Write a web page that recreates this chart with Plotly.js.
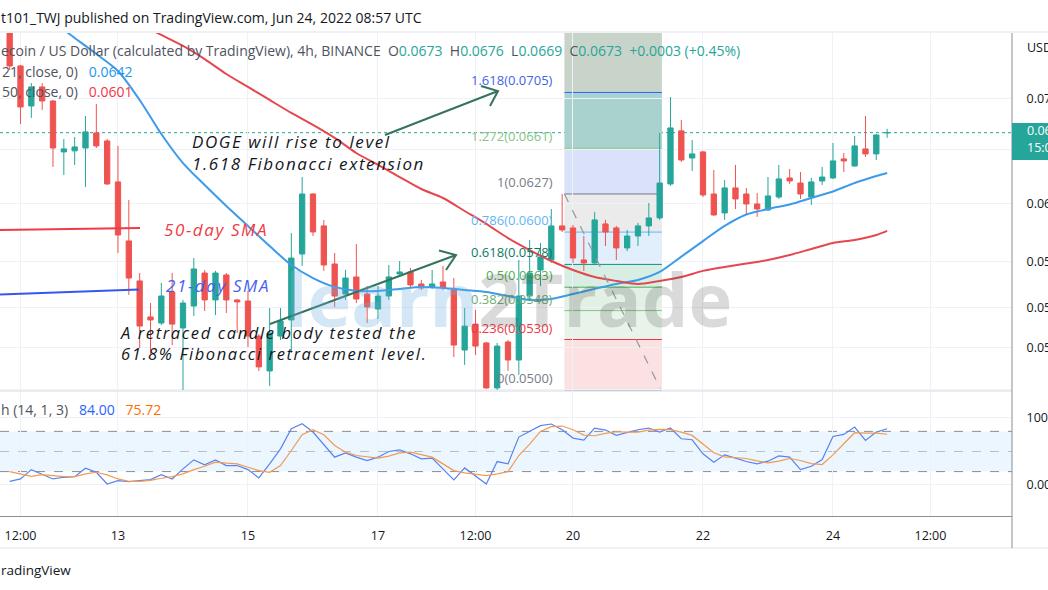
<!DOCTYPE html>
<html>
<head>
<meta charset="utf-8">
<script src="https://cdn.plot.ly/plotly-3.0.1.min.js"></script>
<style>
  html, body { margin: 0; padding: 0; background: #ffffff; }
  #chart { width: 1048px; height: 590px; }
</style>
</head>
<body>
<div id="chart"></div>
<script>
// ---------------- DATA ----------------
const times = [
  "2022-06-11 08:00","2022-06-11 12:00","2022-06-11 16:00","2022-06-11 20:00",
  "2022-06-12 00:00","2022-06-12 04:00","2022-06-12 08:00","2022-06-12 12:00","2022-06-12 16:00","2022-06-12 20:00",
  "2022-06-13 00:00","2022-06-13 04:00","2022-06-13 08:00","2022-06-13 12:00","2022-06-13 16:00","2022-06-13 20:00",
  "2022-06-14 00:00","2022-06-14 04:00","2022-06-14 08:00","2022-06-14 12:00","2022-06-14 16:00","2022-06-14 20:00",
  "2022-06-15 00:00","2022-06-15 04:00","2022-06-15 08:00","2022-06-15 12:00","2022-06-15 16:00","2022-06-15 20:00",
  "2022-06-16 00:00","2022-06-16 04:00","2022-06-16 08:00","2022-06-16 12:00","2022-06-16 16:00","2022-06-16 20:00",
  "2022-06-17 00:00","2022-06-17 04:00","2022-06-17 08:00","2022-06-17 12:00","2022-06-17 16:00","2022-06-17 20:00",
  "2022-06-18 00:00","2022-06-18 04:00","2022-06-18 08:00","2022-06-18 12:00","2022-06-18 16:00","2022-06-18 20:00",
  "2022-06-19 00:00","2022-06-19 04:00","2022-06-19 08:00","2022-06-19 12:00","2022-06-19 16:00","2022-06-19 20:00",
  "2022-06-20 00:00","2022-06-20 04:00","2022-06-20 08:00","2022-06-20 12:00","2022-06-20 16:00","2022-06-20 20:00",
  "2022-06-21 00:00","2022-06-21 04:00","2022-06-21 08:00","2022-06-21 12:00","2022-06-21 16:00","2022-06-21 20:00",
  "2022-06-22 00:00","2022-06-22 04:00","2022-06-22 08:00","2022-06-22 12:00","2022-06-22 16:00","2022-06-22 20:00",
  "2022-06-23 00:00","2022-06-23 04:00","2022-06-23 08:00","2022-06-23 12:00","2022-06-23 16:00","2022-06-23 20:00",
  "2022-06-24 00:00","2022-06-24 04:00","2022-06-24 08:00","2022-06-24 12:00","2022-06-24 16:00","2022-06-24 20:00"
];
const openP = [
  0.07560,0.07269,0.06941,0.07095,
  0.06981,0.06582,0.06590,0.06612,0.06728,0.06666,
  0.06358,0.05939,0.05671,0.05440,0.05402,0.05599,
  0.05371,0.05509,0.05723,0.05548,0.05710,0.05548,
  0.05541,0.05321,0.05111,0.05321,0.05421,0.05850,
  0.06270,0.06043,0.05783,0.05586,0.05697,0.05586,
  0.05490,0.05573,0.05717,0.05730,0.05651,0.05632,
  0.05664,0.05619,0.05236,0.05395,0.05279,0.05012,
  0.05285,0.05176,0.05573,0.05743,0.05810,0.06043,
  0.06029,0.05810,0.05790,0.06057,0.06029,0.05891,
  0.05973,0.06043,0.06099,0.06343,0.06744,0.06536,
  0.06582,0.06270,0.06134,0.06314,0.06270,0.06198,
  0.06155,0.06248,0.06387,0.06350,0.06248,0.06365,
  0.06387,0.06529,0.06476,0.06605,0.06567,0.06730
];
const highP = [
  0.07640,0.07277,0.07127,0.07127,
  0.06989,0.06681,0.06697,0.06861,0.06957,0.06681,
  0.06628,0.06227,0.05723,0.05528,0.05658,0.05723,
  0.05548,0.05823,0.05743,0.05737,0.05723,0.05554,
  0.05606,0.05333,0.05496,0.05496,0.05994,0.06394,
  0.06275,0.06085,0.05857,0.05743,0.05918,0.05638,
  0.05638,0.05776,0.05803,0.05756,0.05677,0.05743,
  0.05770,0.05690,0.05496,0.05484,0.05285,0.05279,
  0.05297,0.05810,0.05946,0.05925,0.06162,0.06270,
  0.06050,0.05973,0.06141,0.06085,0.06043,0.06015,
  0.06064,0.06205,0.06728,0.07013,0.06830,0.06674,
  0.06590,0.06446,0.06372,0.06484,0.06314,0.06277,
  0.06394,0.06484,0.06454,0.06431,0.06387,0.06469,
  0.06650,0.06574,0.06705,0.06861,0.06720,0.06760
];
const lowP = [
  0.07236,0.06798,0.06846,0.06909,
  0.06469,0.06409,0.06484,0.06321,0.06612,0.06336,
  0.05857,0.05580,0.05248,0.05206,0.05389,0.05266,
  0.05000,0.05446,0.05477,0.05452,0.05465,0.05340,
  0.05254,0.05111,0.05023,0.05297,0.05218,0.05770,
  0.05973,0.05737,0.05503,0.05548,0.05528,0.05402,
  0.05427,0.05548,0.05703,0.05625,0.05612,0.05619,
  0.05612,0.05194,0.05147,0.05206,0.05006,0.05000,
  0.05111,0.05088,0.05548,0.05638,0.05790,0.06001,
  0.05790,0.05737,0.05783,0.05904,0.05810,0.05870,
  0.05904,0.05973,0.06085,0.06328,0.06506,0.06439,
  0.06248,0.06113,0.06085,0.06162,0.06120,0.06106,
  0.06148,0.06234,0.06343,0.06234,0.06191,0.06336,
  0.06380,0.06431,0.06469,0.06544,0.06521,0.06690
];
const closeP = [
  0.07269,0.06933,0.07095,0.06981,
  0.06612,0.06605,0.06620,0.06736,0.06628,0.06343,
  0.05980,0.05690,0.05383,0.05421,0.05573,0.05395,
  0.05528,0.05750,0.05548,0.05723,0.05548,0.05535,
  0.05321,0.05135,0.05340,0.05414,0.05823,0.06270,
  0.06001,0.05776,0.05573,0.05690,0.05554,0.05503,
  0.05573,0.05697,0.05730,0.05645,0.05625,0.05651,
  0.05625,0.05266,0.05383,0.05260,0.05012,0.05260,
  0.05176,0.05573,0.05723,0.05830,0.06043,0.06015,
  0.05823,0.05790,0.06085,0.06001,0.05891,0.05973,
  0.06043,0.06099,0.06350,0.06767,0.06521,0.06567,
  0.06263,0.06120,0.06314,0.06234,0.06198,0.06162,
  0.06256,0.06380,0.06365,0.06270,0.06358,0.06394,
  0.06514,0.06514,0.06628,0.06567,0.06712,0.06730
];
const smaTimes = [
  "2022-06-11 08:00","2022-06-11 16:00","2022-06-12 00:00","2022-06-12 08:00","2022-06-12 16:00",
  "2022-06-13 00:00","2022-06-13 08:00","2022-06-13 16:00","2022-06-14 00:00","2022-06-14 08:00","2022-06-14 16:00",
  "2022-06-15 00:00","2022-06-15 08:00","2022-06-15 16:00","2022-06-16 00:00","2022-06-16 08:00","2022-06-16 16:00",
  "2022-06-17 00:00","2022-06-17 08:00","2022-06-17 16:00","2022-06-18 00:00","2022-06-18 08:00","2022-06-18 16:00",
  "2022-06-19 00:00","2022-06-19 08:00","2022-06-19 16:00","2022-06-20 00:00","2022-06-20 08:00","2022-06-20 16:00",
  "2022-06-21 00:00","2022-06-21 08:00","2022-06-21 16:00","2022-06-22 00:00","2022-06-22 08:00","2022-06-22 16:00",
  "2022-06-23 00:00","2022-06-23 08:00","2022-06-23 16:00","2022-06-24 00:00","2022-06-24 08:00","2022-06-24 16:00",
  "2022-06-24 20:00"
];
const sma21 = [
  0.07918,0.07773,0.07648,0.07508,0.07370,
  0.07227,0.06989,0.06720,0.06498,0.06335,0.06184,
  0.06043,0.05904,0.05776,0.05690,0.05632,0.05606,
  0.05606,0.05619,0.05632,0.05625,0.05612,0.05599,
  0.05573,0.05548,0.05554,0.05586,0.05619,0.05651,
  0.05677,0.05730,0.05832,0.05938,0.06043,0.06123,
  0.06162,0.06194,0.06241,0.06288,0.06350,0.06401,
  0.06424
];
const sma50 = [
  0.08263,0.08159,0.08047,0.07936,0.07827,
  0.07728,0.07630,0.07534,0.07439,0.07327,0.07202,
  0.07095,0.06989,0.06885,0.06790,0.06689,0.06574,
  0.06484,0.06394,0.06306,0.06241,0.06148,0.06057,
  0.05959,0.05877,0.05803,0.05743,0.05697,0.05671,
  0.05651,0.05671,0.05697,0.05737,0.05763,0.05786,
  0.05810,0.05843,0.05884,0.05925,0.05946,0.05980,
  0.06008
];
const stochK = [
  5.5,9,23,15.5,9,11.5,12.5,25,19,1.5,
  6.5,5,6,8,15.5,9,24,37.5,30,37.5,
  29,29,23,10.5,31.5,54,84,91.5,79,60,
  41.5,48,41.5,36.5,41.5,50,52.5,46.5,39,40,
  24,7.5,25.5,14,1.5,35,31.5,71.5,
  80,88.5,91,82.5,70,67,85,82,74,78.5,
  82.5,85,79,85,69,67.5,46.5,34,45,40,
  35,31.5,35.5,43.5,41.5,23,28,38,72.5,75.5,
  86.5,66.5,79,84
];
const stochD = [
  20,16.5,13,15.5,14,12.5,12.5,16.5,19,15,
  9,5.5,5.5,7,10,12.5,16.5,23,28,34,
  32.5,31.5,26.5,21.5,19,29,51.5,75,82.5,75,
  59,49,44,41.5,40,43,48,49,45.5,41.5,
  31.5,21.5,18,16.5,14,16.5,20,44,
  61,80,87,88,82.5,74.5,73.5,77,79.5,79,
  79,82,83,82.5,79,74,61.5,48,42,40.5,
  39.5,36,33,35.5,39.5,36.5,32,30.5,45,61.5,
  78,77.5,77.5,75.72
];
const fibLevels = ["0","0.236","0.382","0.5","0.618","0.786","1","1.272","1.618"];
const fibPrices = [0.0500,0.0530,0.0548,0.0563,0.0578,0.0600,0.0627,0.0661,0.0705];
const priceTicks = [0.0500,0.0525,0.0550,0.0580,0.0620,0.0660,0.0700];
const priceTickText = ["","0.0525","0.0550","0.0580","0.0620","0.0660","0.0700"];
const timeTicks = ["2022-06-11 12:00","2022-06-13 00:00","2022-06-15 00:00","2022-06-17 00:00","2022-06-18 12:00","2022-06-20 00:00","2022-06-22 00:00","2022-06-24 00:00","2022-06-25 12:00"];
const timeTickText = ["12:00","13","15","17","12:00","20","22","24","12:00"];
const lastPrice = 0.0673;

// ---------------- STYLE ----------------
const UP = "#26a69a", DOWN = "#ef5350";
const fibLineColors = ["#787b86","#f23645","#81c784","#4caf50","#089981","#64b5f6","#787b86","#81c784","#2962ff"];
const fibLabelColors = ["#787b86","#f23645","#6fae72","#4caf50","#0b7a64","#64b5f6","#787b86","#86c38a","#3f63e6"];
const fibFill = ["#fbe1e1","#e8f4ea","#e2f1e3","#d8eee5","#e1eefb","#ebebeb","#d9e1fb","#a9d2cf","#c8d4ca"];
const fibX0 = "2022-06-19 20:50", fibX1 = "2022-06-21 08:50";
const FONT = "Open Sans, Liberation Sans, sans-serif";
const W = 1012, PT = 33, PB = 516, PH = PB - PT;
const px = x => x / W;
const py = y => (PB - y) / PH;

const traces = [
  {
    type: "candlestick", x: times, open: openP, high: highP, low: lowP, close: closeP,
    xaxis: "x", yaxis: "y",
    increasing: { line: { color: UP, width: 1 }, fillcolor: UP },
    decreasing: { line: { color: DOWN, width: 1 }, fillcolor: DOWN },
    whiskerwidth: 0, hoverinfo: "skip"
  },
  { type: "scatter", mode: "lines", x: smaTimes, y: sma21, xaxis: "x", yaxis: "y",
    line: { color: "#3d9be9", width: 2, shape: "spline", smoothing: 0.8 }, hoverinfo: "skip" },
  { type: "scatter", mode: "lines", x: smaTimes, y: sma50, xaxis: "x", yaxis: "y",
    line: { color: "#e5474f", width: 2, shape: "spline", smoothing: 0.8 }, hoverinfo: "skip" },
  { type: "scatter", mode: "lines", x: times, y: stochK, xaxis: "x", yaxis: "y2",
    line: { color: "#5a82f0", width: 1.2 }, hoverinfo: "skip" },
  { type: "scatter", mode: "lines", x: times, y: stochD, xaxis: "x", yaxis: "y2",
    line: { color: "#f39a52", width: 1.2 }, hoverinfo: "skip" }
];

const shapes = [];
for (let k = 0; k < fibPrices.length; k++) {
  const y0 = fibPrices[k];
  const y1 = k + 1 < fibPrices.length ? fibPrices[k + 1] : 0.0760;
  shapes.push({ type: "rect", xref: "x", yref: "y", x0: fibX0, x1: fibX1, y0: y0, y1: y1,
    fillcolor: fibFill[k], line: { width: 0 }, layer: "below" });
}
for (let k = 0; k < fibPrices.length; k++) {
  shapes.push({ type: "line", xref: "x", yref: "y", x0: fibX0, x1: fibX1, y0: fibPrices[k], y1: fibPrices[k],
    line: { color: fibLineColors[k], width: 1 }, layer: "below" });
}
shapes.push({ type: "line", xref: "x", yref: "y", x0: fibX0, y0: fibPrices[6], x1: "2022-06-21 08:10", y1: 0.0501,
  line: { color: "#9598a1", width: 1.2, dash: "dash" }, layer: "above" });
shapes.push({ type: "line", xref: "paper", yref: "y", x0: 0, x1: 1, y0: lastPrice, y1: lastPrice,
  line: { color: UP, width: 1, dash: "dot" }, layer: "below" });
shapes.push({ type: "rect", xref: "paper", yref: "y2", x0: 0, x1: 1, y0: 20, y1: 80,
  fillcolor: "rgba(33,150,243,0.09)", line: { width: 0 }, layer: "below" });
[80, 50, 20].forEach(v => shapes.push({ type: "line", xref: "paper", yref: "y2", x0: 0, x1: 1, y0: v, y1: v,
  line: { color: v === 50 ? "rgba(120,123,134,0.45)" : "#8a8d96", width: 1, dash: "dash" }, layer: "below" }));
shapes.push({ type: "line", xref: "paper", yref: "paper", x0: 0, x1: 1048 / W, y0: py(32), y1: py(32), line: { color: "#e0e3eb", width: 1 } });
shapes.push({ type: "line", xref: "paper", yref: "paper", x0: 0, x1: 1, y0: py(391), y1: py(391), line: { color: "#d6d9e0", width: 1 } });
shapes.push({ type: "line", xref: "paper", yref: "paper", x0: 0, x1: 1048 / W, y0: py(548), y1: py(548), line: { color: "#e0e3eb", width: 1 } });
shapes.push({ type: "line", xref: "paper", yref: "paper", x0: 1, x1: 1, y0: py(33), y1: py(548), line: { color: "#8a8d96", width: 1 } });
shapes.push({ type: "rect", xref: "paper", yref: "paper", x0: 1, x1: 1060 / W, y0: py(160), y1: py(123), fillcolor: UP, line: { width: 0 } });
shapes.push({ type: "line", xref: "paper", yref: "paper", x0: 0, y0: py(230), x1: px(140), y1: py(228), line: { color: "#ef3b45", width: 2 } });
shapes.push({ type: "line", xref: "paper", yref: "paper", x0: 0, y0: py(294.5), x1: px(139), y1: py(289.5), line: { color: "#3557ef", width: 2 } });
function arrowPath(x1, y1, x2, y2, b1x, b1y, b2x, b2y) {
  return `M ${px(x1)},${py(y1)} L ${px(x2)},${py(y2)} M ${px(b1x)},${py(b1y)} L ${px(x2)},${py(y2)} L ${px(b2x)},${py(b2y)}`;
}
shapes.push({ type: "path", xref: "paper", yref: "paper", path: arrowPath(385, 135, 498, 91, 481, 86, 490, 106),
  line: { color: "#36735c", width: 2 } });
shapes.push({ type: "path", xref: "paper", yref: "paper", path: arrowPath(270, 324, 456, 255, 439, 250.5, 446, 270),
  line: { color: "#36735c", width: 2 } });

const annotations = [];
function ann(o) { annotations.push(Object.assign({ showarrow: false, xref: "paper", yref: "paper", xanchor: "left", yanchor: "middle" }, o)); }
ann({ x: px(-1), y: py(17), text: "t101_TWJ published on TradingView.com, Jun 24, 2022 08:57 UTC", font: { family: FONT, size: 14, color: "#131722" } });
const G = "#50535e";
ann({ x: px(-1), y: py(51), font: { family: FONT, size: 14, color: G },
  text: `ecoin / US Dollar (calculated by TradingView), 4h, BINANCE&nbsp;&nbsp;O<span style="color:${UP}">${openP[openP.length-1].toFixed(4)}</span>&nbsp;&nbsp;H<span style="color:${UP}">${highP[highP.length-1].toFixed(4)}</span>&nbsp;&nbsp;L<span style="color:${UP}">${lowP[lowP.length-1].toFixed(4)}</span>&nbsp;&nbsp;C<span style="color:${UP}">${closeP[closeP.length-1].toFixed(4)}</span>&nbsp;&nbsp;<span style="color:${UP}">+0.0003 (+0.45%)</span>` });
ann({ x: px(0), y: py(71), font: { family: FONT, size: 14, color: G },
  text: `21, close, 0)&nbsp;&nbsp;&nbsp;<span style="color:#2196f3">${sma21[sma21.length-1].toFixed(4)}</span>` });
ann({ x: px(0), y: py(92), font: { family: FONT, size: 14, color: G },
  text: `50, close, 0)&nbsp;&nbsp;&nbsp;<span style="color:#f23645">${sma50[sma50.length-1].toFixed(4)}</span>` });
ann({ x: px(-1), y: py(409), font: { family: FONT, size: 14, color: G },
  text: `h (14, 1, 3)&nbsp;&nbsp;&nbsp;<span style="color:#2962ff">${stochK[stochK.length-1].toFixed(2)}</span>&nbsp;&nbsp;&nbsp;<span style="color:#ff6d00">${stochD[stochD.length-1].toFixed(2)}</span>` });
ann({ x: px(1025), y: py(47), text: "USD", font: { family: FONT, size: 12.5, color: "#131722" } });
ann({ x: px(1025), y: py(130), text: lastPrice.toFixed(4), font: { family: FONT, size: 12.5, color: "#ffffff" } });
ann({ x: px(1025), y: py(147), text: "15:02", font: { family: FONT, size: 12.5, color: "#ffffff" } });
ann({ x: px(-1), y: py(570), text: "radingView", font: { family: FONT, size: 13.5, color: "#131722" } });
for (let k = 0; k < fibPrices.length; k++) {
  annotations.push({ showarrow: false, xref: "x", yref: "y", x: fibX0, y: Math.log10(fibPrices[k]), xanchor: "right", yanchor: "bottom",
    xshift: -9, yshift: 1, text: `${fibLevels[k]}(${fibPrices[k].toFixed(4)})`,
    font: { family: FONT, size: 13, color: fibLabelColors[k] } });
}
const NOTE = { family: FONT, size: 17, color: "#131722", style: "italic" };
ann({ x: px(190), y: py(152), align: "left", text: "DOGE will rise to level<br>1.618 Fibonacci extension", font: NOTE });
ann({ x: px(170), y: py(230), text: "50-day SMA", font: Object.assign({}, NOTE, { color: "#ef3b45" }) });
ann({ x: px(172), y: py(285), text: "21-day SMA", font: Object.assign({}, NOTE, { color: "#4a5ff0" }) });
ann({ x: px(118), y: py(343.5), align: "left", text: "A retraced candle body tested the<br>61.8% Fibonacci retracement level.", font: Object.assign({}, NOTE, { size: 16.5 }) });
ann({ x: px(508), y: py(298), xanchor: "center", text: '<b><span style="color:rgba(110,175,225,0.3)">learn</span><span style="color:rgba(70,70,70,0.2)">2Trade</span></b>',
  font: { family: FONT, size: 74 } });

const layout = {
  width: 1048, height: 590,
  margin: { l: 0, r: 36, t: PT, b: 590 - PB, pad: 0 },
  paper_bgcolor: "#ffffff", plot_bgcolor: "#ffffff",
  showlegend: false, dragmode: false, hovermode: false,
  font: { family: FONT, color: "#131722" },
  xaxis: {
    type: "date", anchor: "y2", range: ["2022-06-11 04:26", "2022-06-26 18:06"],
    tickmode: "array", tickvals: timeTicks, ticktext: timeTickText,
    showgrid: true, gridcolor: "#eef1f6", gridwidth: 1,
    ticks: "outside", ticklen: 8, tickcolor: "rgba(0,0,0,0)",
    tickfont: { family: FONT, size: 12.5, color: "#131722" },
    showline: true, linecolor: "#8a8d96", linewidth: 1,
    zeroline: false, rangeslider: { visible: false }, fixedrange: true, automargin: false
  },
  yaxis: {
    type: "log", domain: [py(391), 1], range: [Math.log10(0.04994), Math.log10(0.07551)], anchor: "x",
    side: "right", tickmode: "array", tickvals: priceTicks, ticktext: priceTickText,
    showgrid: true, gridcolor: "#eef1f6", gridwidth: 1,
    ticks: "outside", ticklen: 11, tickcolor: "rgba(0,0,0,0)",
    tickfont: { family: FONT, size: 12.5, color: "#131722" },
    zeroline: false, showline: false, fixedrange: true, automargin: false
  },
  yaxis2: {
    domain: [0, py(392)], range: [-46.3, 138.8], anchor: "x",
    side: "right", tickmode: "array", tickvals: [0, 100], ticktext: ["0.00", "100.00"],
    showgrid: true, gridcolor: "#eef1f6", gridwidth: 1,
    ticks: "outside", ticklen: 11, tickcolor: "rgba(0,0,0,0)",
    tickfont: { family: FONT, size: 12.5, color: "#131722" },
    zeroline: false, showline: false, fixedrange: true, automargin: false
  },
  shapes: shapes,
  annotations: annotations
};

Plotly.newPlot("chart", traces, layout, { displayModeBar: false, staticPlot: true }).then(() => {
  document.querySelectorAll("#chart .annotation-text").forEach(t => {
    const s = t.textContent;
    if (s.indexOf("DOGE") === 0 || s.indexOf("A retraced") === 0 || s.indexOf("-day SMA") > 0) {
      t.style.letterSpacing = "1.6px";
    }
  });
});
</script>
</body>
</html>
